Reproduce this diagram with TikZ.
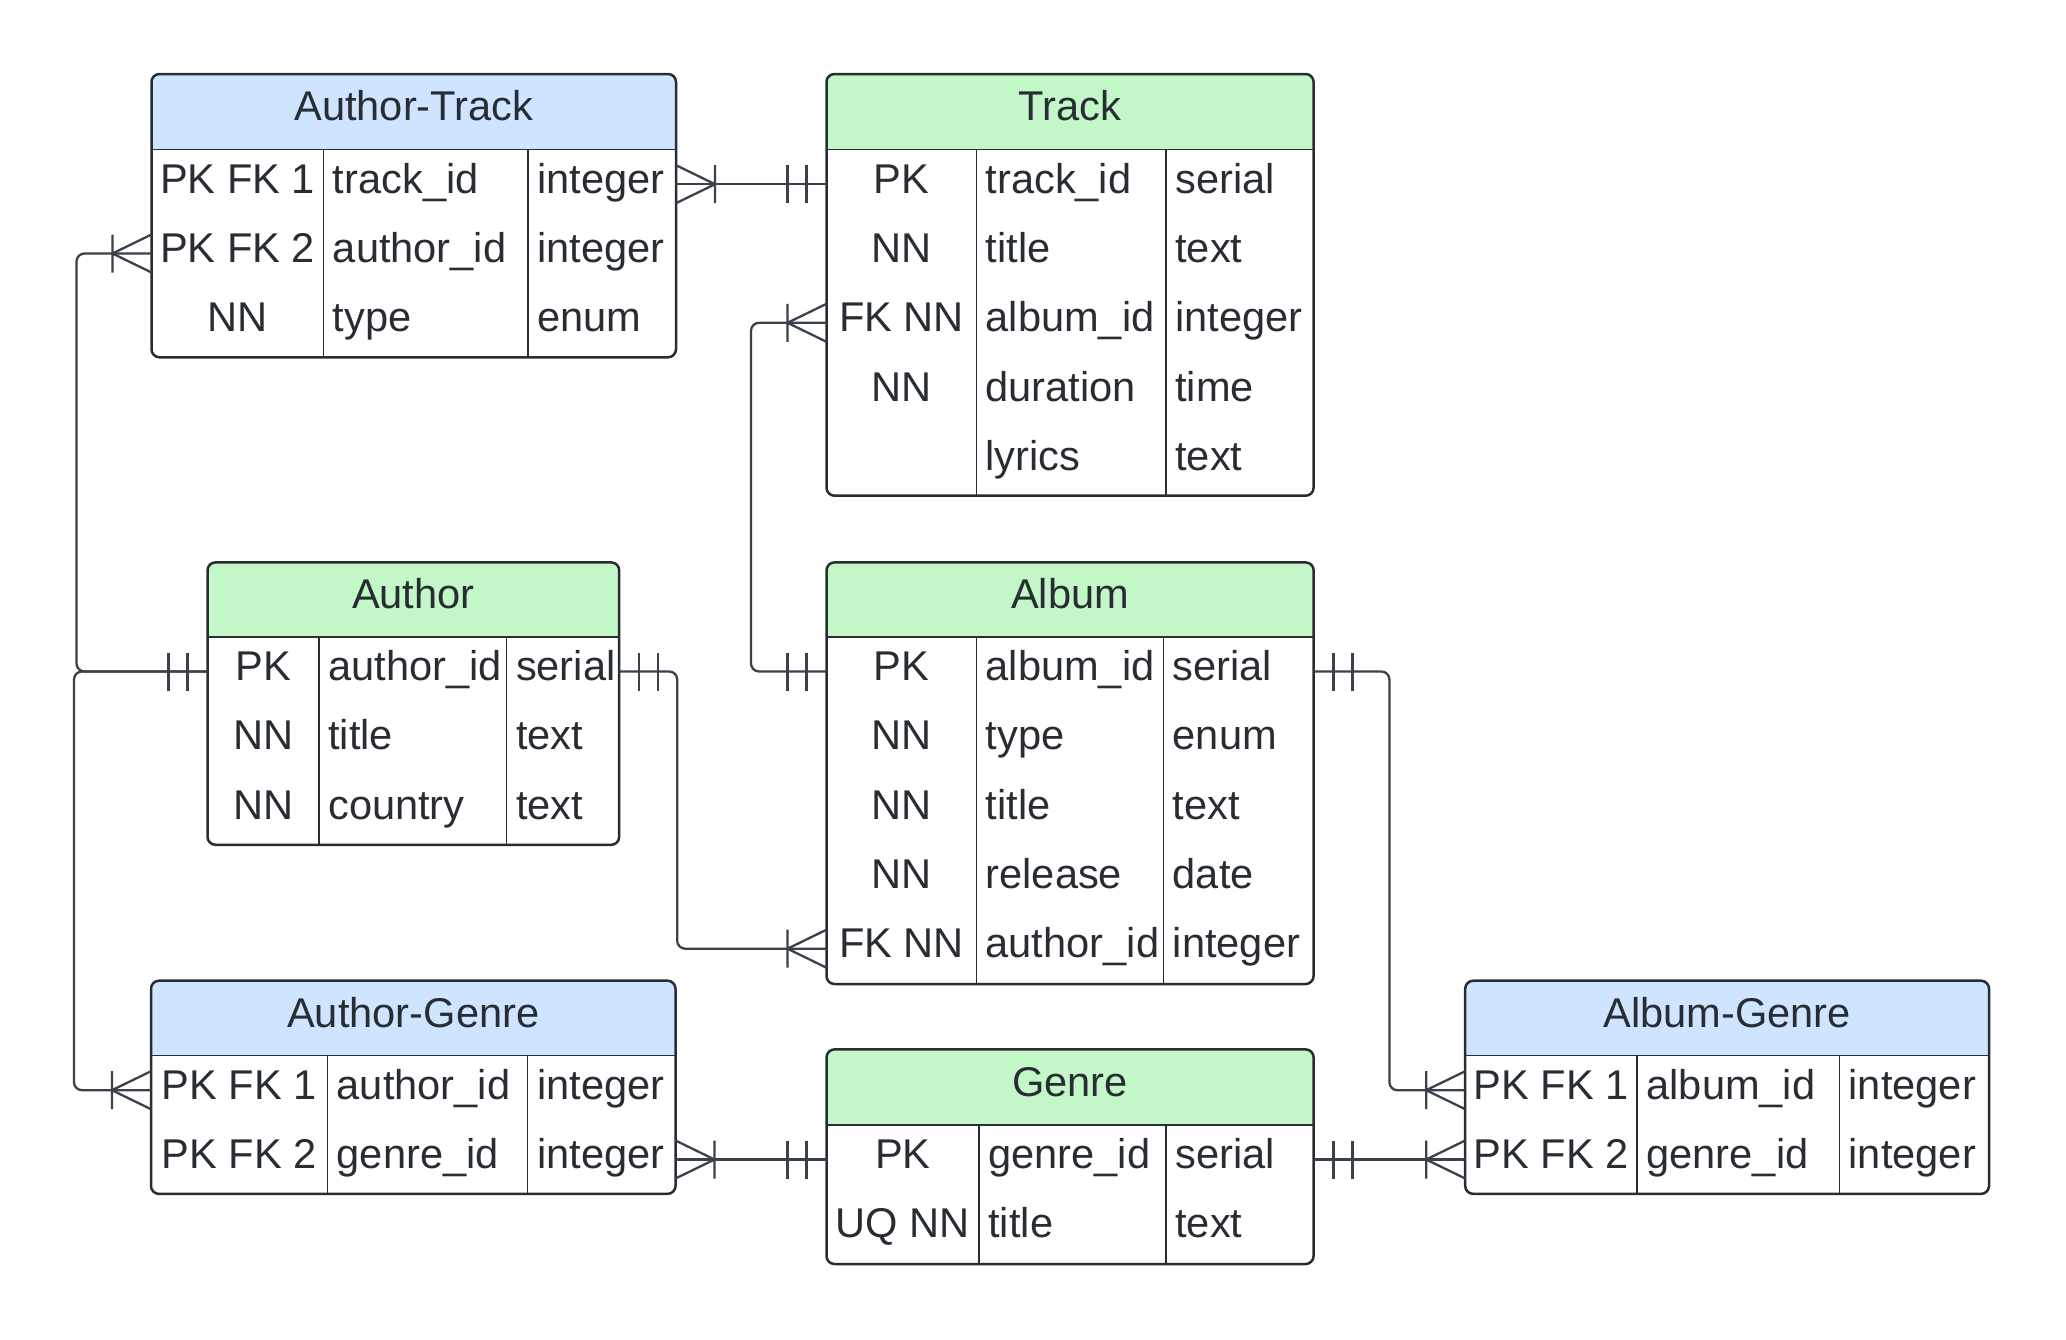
\documentclass[tikz,border=0pt]{standalone}
\usepackage{fontspec}
\setmainfont{Liberation Sans}
\usetikzlibrary{fit}
\definecolor{hdrblue}{HTML}{CFE4FF}
\definecolor{hdrgreen}{HTML}{C3F7C8}
\definecolor{edgecol}{HTML}{282C33}
\definecolor{wire}{HTML}{3A414A}
\definecolor{ink}{HTML}{282C33}
\newcommand{\erfont}{\fontsize{20.8}{24}\selectfont}
\tikzset{
  tbl/.style={draw=edgecol, line width=1.25pt, rounded corners=4pt, inner sep=0pt, outer sep=0pt},
  ttl/.style={anchor=base, text=ink, font=\erfont, inner sep=0pt},
  cella/.style={anchor=base, text=ink, font=\erfont, inner sep=0pt},
  cellb/.style={anchor=base west, text=ink, font=\erfont, inner sep=0pt},
  coldiv/.style={draw=edgecol, line width=0.7pt},
  hdrdiv/.style={draw=edgecol, line width=0.8pt},
  conn/.style={draw=wire, line width=1.15pt, rounded corners=4pt},
  crowfoot/.pic={\draw[wire, line width=1.15pt] (0,19) -- (39,0) -- (0,-19) (39,19) -- (39,-19);},
  onlyone/.pic={\draw[wire, line width=1.15pt] (20,19) -- (20,-19) (39,19) -- (39,-19);},
}
% name, l, t, r, b, hb, color, title
\newcommand{\erframe}[8]{%
  \fill[#7, rounded corners=4pt] (#2,#3) rectangle (#4,#6);
  \fill[#7] (#2,{#3+20}) rectangle (#4,#6);
  \draw[hdrdiv] (#2,#6) -- (#4,#6);
  \node[tbl, fit={(#2,#3) (#4,#5)}] (#1) {};
  \node[ttl] (#1-title) at ({(#2+#4)/2},{(#3+#6)/2+9}) {#8};
}
% hb, b, c1, c2
\newcommand{\ercols}[4]{%
  \draw[coldiv] (#3,#1) -- (#3,#2);
  \draw[coldiv] (#4,#1) -- (#4,#2);
}
% prefix, l, c1, c2, y, a, b, c
\newcommand{\errow}[8]{%
  \coordinate (#1W) at (#2,#5);
  \node[cella] (#1a) at ({(#2+#3)/2},{#5+9}) {#6};
  \node[cellb] (#1b) at ({#3+9},{#5+9}) {#7};
  \node[cellb] (#1c) at ({#4+9},{#5+9}) {#8};
}
\begin{document}
\begin{tikzpicture}[x=0.5pt, y=-0.5pt]
\useasboundingbox (0,0) rectangle (2066,1339);

% Author-Track
\ercols{149.6}{357.3}{323.5}{528}
\erframe{AT}{151.5}{74}{676}{357.3}{149.6}{hdrblue}{Author-Track}
\errow{AT1}{151.5}{323.5}{528}{184.2}{PK FK 1}{track\_id}{integer}
\errow{AT2}{151.5}{323.5}{528}{253.5}{PK FK 2}{author\_id}{integer}
\errow{AT3}{151.5}{323.5}{528}{322.8}{NN}{type}{enum}

% Track
\ercols{149.6}{495.7}{976.3}{1166}
\erframe{T}{826.5}{74}{1313.6}{495.7}{149.6}{hdrgreen}{Track}
\errow{T1}{826.5}{976.3}{1166}{184.2}{PK}{track\_id}{serial}
\errow{T2}{826.5}{976.3}{1166}{253.5}{NN}{title}{text}
\errow{T3}{826.5}{976.3}{1166}{322.8}{FK NN}{album\_id}{integer}
\errow{T4}{826.5}{976.3}{1166}{392.1}{NN}{duration}{time}
\errow{T5}{826.5}{976.3}{1166}{461.4}{}{lyrics}{text}

% Author
\ercols{636.8}{844.8}{318.8}{506.6}
\erframe{A}{207.5}{562.4}{619.2}{844.8}{636.8}{hdrgreen}{Author}
\errow{A1}{207.5}{318.8}{506.6}{671.5}{PK}{author\_id}{serial}
\errow{A2}{207.5}{318.8}{506.6}{740.8}{NN}{title}{text}
\errow{A3}{207.5}{318.8}{506.6}{810.1}{NN}{country}{text}

% Album
\ercols{636.8}{984}{976.3}{1163.4}
\erframe{AL}{826.5}{562.4}{1313.6}{984}{636.8}{hdrgreen}{Album}
\errow{AL1}{826.5}{976.3}{1163.4}{671.5}{PK}{album\_id}{serial}
\errow{AL2}{826.5}{976.3}{1163.4}{740.8}{NN}{type}{enum}
\errow{AL3}{826.5}{976.3}{1163.4}{810.1}{NN}{title}{text}
\errow{AL4}{826.5}{976.3}{1163.4}{879.4}{NN}{release}{date}
\errow{AL5}{826.5}{976.3}{1163.4}{948.7}{FK NN}{author\_id}{integer}

% Author-Genre
\ercols{1055.5}{1193.9}{327.4}{527.7}
\erframe{AG}{151}{980.7}{675.5}{1193.9}{1055.5}{hdrblue}{Author-Genre}
\errow{AG1}{151}{327.4}{527.7}{1090.2}{PK FK 1}{author\_id}{integer}
\errow{AG2}{151}{327.4}{527.7}{1159.5}{PK FK 2}{genre\_id}{integer}

% Genre
\ercols{1124.9}{1264}{979}{1166}
\erframe{G}{826.5}{1049.4}{1313.6}{1264}{1124.9}{hdrgreen}{Genre}
\errow{G1}{826.5}{979}{1166}{1159.5}{PK}{genre\_id}{serial}
\errow{G2}{826.5}{979}{1166}{1228.9}{UQ NN}{title}{text}

% Album-Genre
\ercols{1055.5}{1193.9}{1637.1}{1839.3}
\erframe{ALG}{1465.2}{980.7}{1989}{1193.9}{1055.5}{hdrblue}{Album-Genre}
\errow{ALG1}{1465.2}{1637.1}{1839.3}{1090.2}{PK FK 1}{album\_id}{integer}
\errow{ALG2}{1465.2}{1637.1}{1839.3}{1159.5}{PK FK 2}{genre\_id}{integer}

% east ports
\coordinate (AT1E) at (AT.east |- AT1W);
\coordinate (A1E) at (A.east |- A1W);
\coordinate (AL1E) at (AL.east |- AL1W);
\coordinate (AG2E) at (AG.east |- AG2W);
\coordinate (G1E) at (G.east |- G1W);

% bends
\coordinate (busL1) at (76.5,671.5);
\coordinate (busL2) at (74,671.5);
\coordinate (busM) at (751,671.5);
\coordinate (busA) at (677.2,671.5);
\coordinate (busR) at (1389.4,671.5);

% connectors
\draw[conn] (AT1E) -- (T1W);
\pic at (AT1E) {crowfoot};
\pic[rotate=180] at (T1W) {onlyone};

\draw[conn] (A1W) -- (busL1) |- (AT2W);
\pic[rotate=180] at (A1W) {onlyone};
\pic[rotate=180] at (AT2W) {crowfoot};

\draw[conn] (A1W) -- (busL2) |- (AG1W);
\pic[rotate=180] at (AG1W) {crowfoot};

\draw[conn] (AL1W) -- (busM) |- (T3W);
\pic[rotate=180] at (AL1W) {onlyone};
\pic[rotate=180] at (T3W) {crowfoot};

\draw[conn] (A1E) -- (busA) |- (AL5W);
\pic at (A1E) {onlyone};
\pic[rotate=180] at (AL5W) {crowfoot};

\draw[conn] (AG2E) -- (G1W);
\pic at (AG2E) {crowfoot};
\pic[rotate=180] at (G1W) {onlyone};

\draw[conn] (AL1E) -- (busR) |- (ALG1W);
\pic at (AL1E) {onlyone};
\pic[rotate=180] at (ALG1W) {crowfoot};

\draw[conn] (G1E) -- (ALG2W);
\pic at (G1E) {onlyone};
\pic[rotate=180] at (ALG2W) {crowfoot};
\end{tikzpicture}
\end{document}
